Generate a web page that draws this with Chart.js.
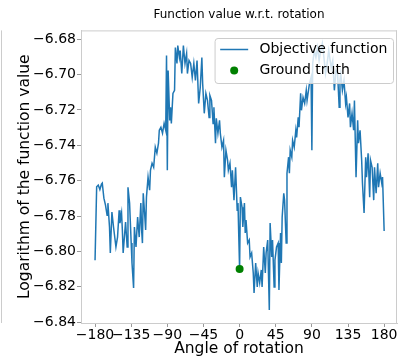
<!DOCTYPE html>
<html>
<head>
<meta charset="utf-8">
<script src="https://cdn.jsdelivr.net/npm/chart.js@4.4.1/dist/chart.umd.min.js"></script>
<style>
  html, body { margin: 0; padding: 0; background: #fff; }
</style>
</head>
<body>
<canvas id="chart" width="403" height="359"></canvas>
<script>
// objective function sampled over the rotation angle (degrees)
const angles = [
  -180, -178, -176, -174, -172, -171, -169, -167, -165, -164, -162, -161, -159, -157, -154, -152,
  -150, -149, -147, -146, -145, -142, -140, -139, -137, -135, -134, -132, -131, -129, -127, -125,
  -123, -122, -121, -120, -118, -117, -116, -114, -112, -111, -109, -107, -105, -103, -101, -100,
  -98, -96, -94, -92, -91, -90, -89, -87, -86, -85, -83, -81, -80, -78, -77, -75,
  -74, -72, -70, -68, -66, -65, -63, -61, -59, -57, -55, -53, -51, -49, -47, -46,
  -44, -42, -40, -38, -37, -35, -33, -32, -30, -29, -27, -25, -24, -22, -20, -19,
  -17, -15, -14, -12, -10, -9, -7, -5, -3, -2, -1, 0, 1, 3, 4, 6,
  7, 8, 10, 12, 13, 15, 17, 18, 20, 22, 23, 25, 27, 28, 30, 32,
  33, 35, 37, 38, 40, 41, 43, 44, 46, 48, 49, 51, 52, 53, 55, 56,
  58, 59, 61, 62, 63, 65, 66, 68, 70, 71, 73, 74, 76, 77, 79, 81,
  83, 84, 87, 89, 90, 91, 93, 95, 97, 99, 101, 103, 105, 107, 109, 111,
  114, 116, 118, 120, 122, 124, 125, 126, 128, 130, 132, 133, 135, 137, 138, 140,
  142, 143, 145, 147, 148, 150, 152, 153, 155, 157, 158, 160, 162, 163, 165, 167,
  168, 170, 172, 173, 175, 177, 178, 180
];
const logValues = [
  -6.8050, -6.7635, -6.7625, -6.7650, -6.7620, -6.7614, -6.7699, -6.7738, -6.7795, -6.7727, -6.7862, -6.8009, -6.7778, -6.7862, -6.7975, -6.7919,
  -6.7767, -6.7840, -6.7783, -6.7879, -6.8009, -6.7834, -6.7975, -6.7637, -6.7727, -6.7953, -6.8066, -6.8207, -6.7862, -6.7975, -6.7806, -6.7919,
  -6.7727, -6.7879, -6.7953, -6.7671, -6.7806, -6.7879, -6.7693, -6.7580, -6.7654, -6.7541, -6.7501, -6.7524, -6.7411, -6.7445, -6.7388, -6.7315,
  -6.7298, -6.7332, -6.7276, -6.7315, -6.6892, -6.7541, -6.6977, -6.7259, -6.7185, -6.7276, -6.7106, -6.7089, -6.6847, -6.6937, -6.6836, -6.6903,
  -6.6864, -6.6994, -6.6836, -6.6937, -6.6881, -6.6994, -6.6920, -6.6937, -6.7016, -6.6937, -6.7033, -6.6920, -6.7163, -6.7073, -6.6903, -6.7050,
  -6.7219, -6.7106, -6.7146, -6.7242, -6.7118, -6.7146, -6.7276, -6.7185, -6.7388, -6.7247, -6.7332, -6.7259, -6.7332, -6.7411, -6.7372, -6.7580,
  -6.7428, -6.7484, -6.7541, -6.7501, -6.7637, -6.7541, -6.7710, -6.7524, -6.7767, -6.7727, -6.7919, -6.8100, -6.7693, -6.7750, -6.7862, -6.7727,
  -6.7896, -6.7823, -6.7953, -6.7936, -6.8032, -6.8009, -6.8122, -6.8235, -6.8066, -6.8201, -6.8122, -6.8178, -6.8105, -6.8201, -6.7975, -6.8122,
  -6.8009, -6.7936, -6.8331, -6.7840, -6.8032, -6.7936, -6.8201, -6.8049, -6.7975, -6.7953, -6.8218, -6.7896, -6.8066, -6.7806, -6.7671, -6.7710,
  -6.7953, -6.7558, -6.7467, -6.7558, -6.7428, -6.7467, -6.7372, -6.7411, -6.7315, -6.7355, -6.7242, -6.7298, -6.7106, -6.7202, -6.7129, -6.7163,
  -6.7089, -6.7146, -6.7050, -6.7016, -6.7428, -6.6937, -6.6864, -6.6903, -6.6847, -6.6920, -6.6864, -6.6824, -6.6903, -6.6994, -6.6937, -6.6864,
  -6.6960, -6.6920, -6.7089, -6.6977, -6.6994, -6.7185, -6.7033, -6.6994, -6.7089, -6.7033, -6.7163, -6.7129, -6.7242, -6.7163, -6.7298, -6.7219,
  -6.7315, -6.7146, -6.7580, -6.7259, -6.7388, -6.7315, -6.7484, -6.7614, -6.7783, -6.7467, -6.7580, -6.7445, -6.7693, -6.7484, -6.7524, -6.7710,
  -6.7524, -6.7671, -6.7501, -6.7637, -6.7558, -6.7614, -6.7580, -6.7885
];

// ground truth rotation
const truthAngle = [0];
const truthValue = [-6.81];

const xTicks = [-180, -135, -90, -45, 0, 45, 90, 135, 180];
const yTicks = [-6.84, -6.82, -6.80, -6.78, -6.76, -6.74, -6.72, -6.70, -6.68];

const FONT = 'DejaVu Sans';
Chart.defaults.font.family = FONT;
Chart.defaults.color = '#000';

// matplotlib style minus sign
function fmt(v, digits) {
  const s = Math.abs(v).toFixed(digits);
  return v < 0 ? '\u2212' + s : s;
}

// light grey frame around the axes (+ edge of the neighbouring panel)
const frame = {
  id: 'frame',
  beforeDatasetsDraw(chart) {
    const { ctx, chartArea: a } = chart;
    ctx.save();
    ctx.strokeStyle = '#cccccc';
    ctx.lineWidth = 1;
    ctx.beginPath();
    ctx.moveTo(a.left, a.top + 0.5);
    ctx.lineTo(a.right, a.top + 0.5);
    ctx.moveTo(a.right - 0.5, a.top);
    ctx.lineTo(a.right - 0.5, a.bottom);
    ctx.moveTo(1.5, a.top);
    ctx.lineTo(1.5, a.bottom);
    ctx.stroke();
    ctx.restore();
  }
};

// legend box in the upper right corner, semi transparent like matplotlib
const legendBox = {
  id: 'legendBox',
  afterDatasetsDraw(chart) {
    const { ctx, chartArea: a } = chart;
    const ds = chart.data.datasets;
    const fs = 14;
    ctx.save();
    ctx.font = fs + 'px "' + FONT + '"';
    const textW = Math.max(...ds.map(d => ctx.measureText(d.label).width));
    const pad = 0.4 * fs, handle = 2 * fs, gap = 0.8 * fs, rowH = 21;
    const w = pad + handle + gap + textW + pad;
    const h = 2 * rowH + 3;
    const x = a.right - 4 - w;
    const y = a.top + 7.6;
    ctx.beginPath();
    ctx.roundRect(x + 0.5, y + 0.5, w, h, 3);
    ctx.fillStyle = 'rgba(255,255,255,0.8)';
    ctx.fill();
    ctx.strokeStyle = '#cccccc';
    ctx.lineWidth = 1;
    ctx.stroke();

    const r1 = y + 11.5, r2 = r1 + rowH;
    // line handle
    ctx.strokeStyle = ds[0].borderColor;
    ctx.lineWidth = ds[0].borderWidth;
    ctx.beginPath();
    ctx.moveTo(x + pad, r1);
    ctx.lineTo(x + pad + handle, r1);
    ctx.stroke();
    // marker handle
    ctx.fillStyle = ds[1].backgroundColor;
    ctx.beginPath();
    ctx.arc(x + pad + handle / 2, r2, ds[1].pointRadius, 0, Math.PI * 2);
    ctx.fill();

    ctx.fillStyle = '#000';
    ctx.textBaseline = 'middle';
    ctx.textAlign = 'left';
    ctx.fillText(ds[0].label, x + pad + handle + gap, r1);
    ctx.fillText(ds[1].label, x + pad + handle + gap, r2);
    ctx.restore();
  }
};

new Chart(document.getElementById('chart'), {
  type: 'line',
  data: {
    datasets: [
      {
        label: 'Objective function',
        data: angles.map((a, i) => ({ x: a, y: logValues[i] })),
        borderColor: '#1f77b4',
        borderWidth: 1.5,
        pointRadius: 0,
        tension: 0,
        fill: false,
        order: 1
      },
      {
        type: 'scatter',
        label: 'Ground truth',
        data: truthAngle.map((a, i) => ({ x: a, y: truthValue[i] })),
        backgroundColor: '#008000',
        borderColor: '#008000',
        borderWidth: 0,
        pointRadius: 4,
        order: 0
      }
    ]
  },
  options: {
    responsive: false,
    animation: false,
    devicePixelRatio: 1,
    layout: { padding: { right: 6 } },
    plugins: {
      legend: { display: false },
      tooltip: { enabled: false },
      title: {
        display: true,
        text: 'Function value w.r.t. rotation',
        fullSize: false,
        color: '#000',
        font: { size: 12, weight: 'normal' },
        padding: { top: 8, bottom: 8 }
      }
    },
    scales: {
      x: {
        type: 'linear',
        min: -197.5,
        max: 196,
        afterBuildTicks: s => { s.ticks = xTicks.map(v => ({ value: v })); },
        afterFit: s => { s.height = 36; },
        grid: { drawOnChartArea: false, tickLength: 4, tickColor: '#999' },
        border: { color: '#cccccc' },
        ticks: {
          padding: 0,
          maxRotation: 0,
          autoSkip: false,
          color: '#000',
          font: { size: 14 },
          callback: v => fmt(v, 0)
        },
        title: {
          display: true,
          text: 'Angle of rotation',
          color: '#000',
          font: { size: 15.5 },
          padding: { top: 0, bottom: 1 }
        }
      },
      y: {
        min: -6.8405,
        max: -6.675,
        afterBuildTicks: s => { s.ticks = yTicks.map(v => ({ value: v })); },
        afterFit: s => { s.width = 81; },
        grid: { drawOnChartArea: false, tickLength: 4, tickColor: '#999' },
        border: { color: '#cccccc' },
        ticks: {
          padding: 1,
          autoSkip: false,
          color: '#000',
          font: { size: 14 },
          callback: v => fmt(v, 2)
        },
        title: {
          display: true,
          text: 'Logarithm of the function value',
          color: '#000',
          font: { size: 15.5 },
          padding: { top: 16, bottom: 0 }
        }
      }
    }
  },
  plugins: [frame, legendBox]
});
</script>
</body>
</html>
